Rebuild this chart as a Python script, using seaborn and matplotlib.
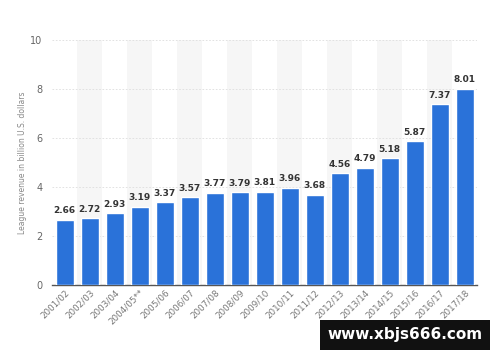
import matplotlib
matplotlib.use("Agg")
import matplotlib.pyplot as plt
import seaborn as sns
import pandas as pd

seasons = ["2001/02", "2002/03", "2003/04", "2004/05**", "2005/06", "2006/07", "2007/08",
           "2008/09", "2009/10", "2010/11", "2011/12", "2012/13", "2013/14", "2014/15",
           "2015/16", "2016/17", "2017/18"]
revenue = [2.66, 2.72, 2.93, 3.19, 3.37, 3.57, 3.77, 3.79, 3.81, 3.96, 3.68, 4.56,
           4.79, 5.18, 5.87, 7.37, 8.01]
yticks = [0, 2, 4, 6, 8, 10]

sns.set_style("white")
plt.rcParams['font.family'] = ['DejaVu Sans', 'Noto Sans CJK SC']

df = pd.DataFrame({"season": seasons, "revenue": revenue})

fig = plt.figure(figsize=(5, 3.62), dpi=100)
ax = fig.add_axes([0.104, 0.213, 0.85, 0.677])

for i in range(len(seasons)):
    if i % 2 == 1:
        ax.axvspan(i - 0.5, i + 0.5, color="#f6f6f6", zorder=0, lw=0)

sns.barplot(data=df, x="season", y="revenue", color="#2a72d9", width=0.72,
            saturation=1, ax=ax, zorder=3)

for i, v in enumerate(revenue):
    ax.text(i, v + 0.18, f"{v:.2f}", ha="center", va="bottom", fontsize=6.5,
            fontweight="bold", color="#333333", zorder=4)

ax.set_ylim(0, 10)
ax.set_xlim(-0.5, len(seasons) - 0.5)
ax.set_yticks(yticks)
ax.set_yticklabels([str(t) for t in yticks])
ax.yaxis.grid(True, linestyle=(0, (2, 2)), color="#dddddd", lw=0.6, zorder=1)
ax.set_axisbelow(True)
for s in ["top", "right", "left"]:
    ax.spines[s].set_visible(False)
ax.spines["bottom"].set_color("#555555")
ax.spines["bottom"].set_linewidth(1.0)
ax.tick_params(axis="y", length=0, labelsize=7, labelcolor="#666666", pad=7)
ax.tick_params(axis="x", length=0, labelsize=6.3, labelcolor="#777777", pad=2)
plt.setp(ax.get_xticklabels(), rotation=45, ha="right", rotation_mode="anchor")
ax.set_xlabel("")
ax.set_ylabel("League revenue in billion U.S. dollars", fontsize=5.5, color="#888888", labelpad=2)

fig.text(0.81, 0.075, "www.xbjs666.com", fontsize=11, fontweight="bold", color="white",
         ha="center", va="center",
         bbox=dict(boxstyle="square,pad=0.5", fc="#111111", ec="none"))

fig.savefig("out.png", dpi=100)
